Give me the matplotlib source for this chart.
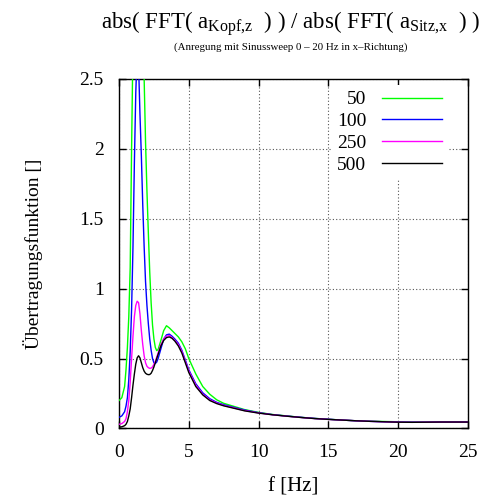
import matplotlib
matplotlib.use("Agg")
import matplotlib.pyplot as plt

plt.rcParams['font.family'] = ['Liberation Serif', 'DejaVu Serif']
plt.rcParams['mathtext.fontset'] = 'custom'
plt.rcParams['mathtext.rm'] = 'Liberation Serif'
plt.rcParams['mathtext.it'] = 'Liberation Serif'

# frequency grid [Hz]
freq = [0, 0.2, 0.4, 0.5, 0.6, 0.7, 0.8, 0.9, 1.0, 1.1, 1.2, 1.3, 1.4, 1.5, 1.6,
        1.7, 1.8, 1.9, 2.0, 2.1, 2.2, 2.3, 2.4, 2.5, 2.6, 2.7, 2.8, 3.0, 3.2,
        3.4, 3.6, 3.8, 4.0, 4.25, 4.5, 4.75, 5.0, 5.5, 6.0, 6.5, 7.0, 7.5, 8.0,
        9, 10, 11, 12, 13, 14, 15, 16, 17, 18, 19, 20, 21, 22, 23, 24, 25]

tf_50 = [0.20, 0.22, 0.30, 0.42, 0.58, 0.80, 1.15, 2.0, 2.75, 3.3, 3.8, 4.1, 4.0, 3.6, 3.2,
         2.85, 2.5, 2.05, 1.7, 1.4, 1.12, 0.90, 0.74, 0.64, 0.58, 0.557, 0.565, 0.63, 0.70,
         0.735, 0.72, 0.70, 0.68, 0.655, 0.62, 0.57, 0.50, 0.39, 0.30, 0.245, 0.205, 0.18, 0.165,
         0.135, 0.115, 0.10, 0.09, 0.08, 0.072, 0.066, 0.06, 0.055, 0.052, 0.05, 0.048, 0.046,
         0.046, 0.047, 0.047, 0.047]

tf_100 = [0.08, 0.09, 0.12, 0.16, 0.22, 0.35, 0.55, 0.85, 1.3, 1.9, 2.4, 2.7, 2.6, 2.25, 1.95,
          1.6, 1.3, 1.05, 0.88, 0.75, 0.64, 0.56, 0.50, 0.47, 0.465, 0.475, 0.50, 0.57, 0.64,
          0.67, 0.675, 0.66, 0.64, 0.61, 0.56, 0.49, 0.42, 0.32, 0.255, 0.213, 0.187, 0.17, 0.157,
          0.132, 0.113, 0.099, 0.089, 0.08, 0.072, 0.066, 0.06, 0.055, 0.051, 0.048, 0.046, 0.045,
          0.045, 0.046, 0.046, 0.046]

tf_250 = [0.03, 0.035, 0.05, 0.07, 0.12, 0.2, 0.33, 0.50, 0.66, 0.80, 0.88, 0.91, 0.90, 0.82, 0.70,
          0.60, 0.52, 0.47, 0.445, 0.435, 0.43, 0.432, 0.44, 0.46, 0.48, 0.51, 0.54, 0.60, 0.64,
          0.66, 0.665, 0.65, 0.63, 0.60, 0.55, 0.48, 0.41, 0.31, 0.245, 0.205, 0.182, 0.165, 0.153,
          0.128, 0.111, 0.098, 0.088, 0.079, 0.071, 0.065, 0.06, 0.055, 0.051, 0.048, 0.045, 0.044,
          0.045, 0.046, 0.046, 0.046]

tf_500 = [0.01, 0.012, 0.02, 0.03, 0.05, 0.09, 0.14, 0.22, 0.31, 0.39, 0.46, 0.505, 0.52, 0.505, 0.47,
          0.435, 0.41, 0.395, 0.388, 0.385, 0.386, 0.395, 0.415, 0.44, 0.47, 0.50, 0.53, 0.59, 0.63,
          0.65, 0.655, 0.645, 0.625, 0.59, 0.54, 0.47, 0.40, 0.30, 0.24, 0.20, 0.178, 0.162, 0.15,
          0.126, 0.11, 0.098, 0.088, 0.079, 0.071, 0.065, 0.06, 0.055, 0.051, 0.048, 0.045, 0.044,
          0.045, 0.046, 0.046, 0.046]

labels = ['50', '100', '250', '500']
colors = ['#00ff00', '#0000ff', '#ff00ff', '#000000']
series = [tf_50, tf_100, tf_250, tf_500]

xticks = [0, 5, 10, 15, 20, 25]
yticks = [0, 0.5, 1, 1.5, 2, 2.5]

fig = plt.figure(figsize=(4.89, 4.98), dpi=100)
ax = fig.add_axes([0.2434, 0.1396, 0.957 - 0.2434, 0.8414 - 0.1396])

handles = []
for vals, lab, col in zip(series, labels, colors):
    h, = ax.plot(freq, vals, color=col, lw=1.0, label=lab, zorder=3)
    handles.append(h)

ax.set_xlim(0, 25)
ax.set_ylim(0, 2.5)
ax.set_xticks(xticks)
ax.set_xticklabels([str(t) for t in xticks])
ax.set_yticks(yticks)
ax.set_yticklabels(['0', '0.5', '1', '1.5', '2', '2.5'])
ax.tick_params(direction='in', length=5, width=1, top=True, right=True,
               labelsize=14, pad=11)
ax.grid(True, linestyle=(0, (1, 2)), color='#555555', lw=0.8, zorder=1)
for s in ax.spines.values():
    s.set_linewidth(1.0)

ax.set_xlabel('f [Hz]', fontsize=15, labelpad=12)
ax.set_ylabel('Übertragungsfunktion []', fontsize=14, labelpad=26)

leg = ax.legend(handles=handles, loc='upper right', bbox_to_anchor=(0.943, 0.983),
                markerfirst=False, frameon=True, fancybox=False, framealpha=1,
                facecolor='white', edgecolor='none', fontsize=14, handlelength=3.1,
                labelspacing=0.22, handletextpad=0.8, borderaxespad=0.0,
                borderpad=0.3)
leg.set_zorder(5)

fig.text(0.595, 0.952,
         r'abs( FFT( a$_{\mathrm{Kopf{,}z}}$  ) ) / abs( FFT( a$_{\mathrm{Sitz{,}x}}$  ) )',
         ha='center', va='center', fontsize=16.5)
fig.text(0.595, 0.905, '(Anregung mit Sinussweep 0 – 20 Hz in x–Richtung)',
         ha='center', va='center', fontsize=7.8)

fig.savefig('out.png', dpi=100)
